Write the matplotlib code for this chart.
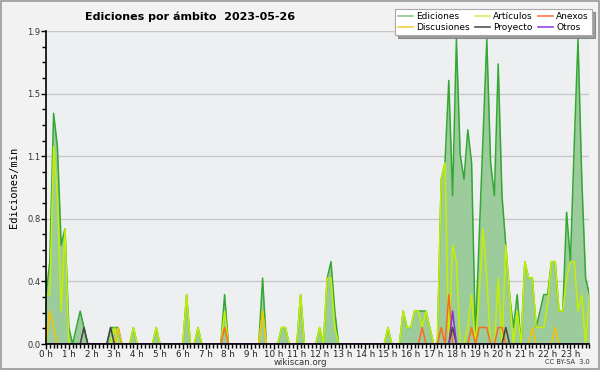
import matplotlib
matplotlib.use("Agg")
import matplotlib.pyplot as plt
import matplotlib.patches as mpatches
import numpy as np

# edits per minute, one value per 10 minutes (2 hours per row)
ediciones = [
    0.3, 0.5, 1.4, 1.2, 0.6, 0.7, 0.1, 0, 0.1, 0.2, 0.1, 0,
    0, 0, 0, 0, 0, 0.1, 0.1, 0.1, 0, 0, 0, 0.1,
    0, 0, 0, 0, 0, 0.1, 0, 0, 0, 0, 0, 0,
    0, 0.3, 0, 0, 0.1, 0, 0, 0, 0, 0, 0, 0.3,
    0, 0, 0, 0, 0, 0, 0, 0, 0, 0.4, 0, 0,
    0, 0, 0.1, 0.1, 0, 0, 0, 0.3, 0, 0, 0, 0,
    0.1, 0, 0.4, 0.5, 0.2, 0, 0, 0, 0, 0, 0, 0,
    0, 0, 0, 0, 0, 0, 0.1, 0, 0, 0, 0.2, 0.1,
    0.1, 0.2, 0.2, 0.2, 0.2, 0.1, 0, 0, 1.0, 1.1, 1.6, 0.9,
    1.85, 1.15, 1.0, 1.3, 1.1, 0.05, 0.65, 1.25, 1.85, 1.1, 0.9, 1.7,
    0.9, 0.6, 0.3, 0.1, 0.3, 0, 0.5, 0.4, 0.4, 0.1, 0.2, 0.3,
    0.3, 0.5, 0.5, 0.2, 0.2, 0.8, 0.5, 1.2, 1.85, 1.0, 0.4, 0.3,
]
articulos = [
    0.3, 0.3, 1.2, 0.9, 0.2, 0.7, 0, 0, 0, 0, 0, 0,
    0, 0, 0, 0, 0, 0, 0.1, 0, 0, 0, 0, 0.1,
    0, 0, 0, 0, 0, 0.1, 0, 0, 0, 0, 0, 0,
    0, 0.3, 0, 0, 0.1, 0, 0, 0, 0, 0, 0, 0.2,
    0, 0, 0, 0, 0, 0, 0, 0, 0, 0.2, 0, 0,
    0, 0, 0.1, 0.1, 0, 0, 0, 0.3, 0, 0, 0, 0,
    0.1, 0, 0.4, 0.4, 0.1, 0, 0, 0, 0, 0, 0, 0,
    0, 0, 0, 0, 0, 0, 0.1, 0, 0, 0, 0.2, 0.1,
    0.1, 0.2, 0.2, 0.1, 0.2, 0.1, 0, 0, 1.0, 1.1, 0, 0.6,
    0.5, 0, 0, 0.1, 0.3, 0, 0.3, 0.7, 0.4, 0, 0, 0.4,
    0, 0.6, 0.3, 0, 0.2, 0, 0.5, 0.4, 0.4, 0.1, 0.1, 0.1,
    0.25, 0.5, 0.5, 0.2, 0.2, 0.4, 0.5, 0.5, 0.2, 0.3, 0, 0.3,
]
# sparse series: time -> edits per minute
discusiones = {"00:10": 0.2, "00:20": 0.1, "03:10": 0.1, "09:30": 0.2,
               "21:20": 0.1, "22:20": 0.1}
anexos = {"07:50": 0.1, "16:30": 0.1, "17:20": 0.1, "17:40": 0.3,
          "18:40": 0.1, "19:00": 0.1, "19:10": 0.1, "19:20": 0.1,
          "19:50": 0.1, "20:00": 0.1}
proyecto = {"01:40": 0.1, "02:50": 0.1, "17:50": 0.1, "20:10": 0.1}
otros = {"17:50": 0.2}

hour_labels = [f"{h} h" for h in range(24)]
date = "2023-05-26"


def expand(d):
    out = np.zeros(144)
    for k, v in d.items():
        h, m = k.split(":")
        out[int(h) * 6 + int(m) // 10] = v
    return out


t = np.arange(144) / 6.0

fig = plt.figure(figsize=(6, 3.7), dpi=100, facecolor="#f2f2f2")
fig.patches.append(mpatches.Rectangle((0.001, 0.002), 0.997, 0.995, transform=fig.transFigure,
                                      fill=False, edgecolor="#999999", linewidth=1.2))
ax = fig.add_axes([46 / 600, 26 / 370, 543.4 / 600, 313 / 370])
ax.set_facecolor("#eeeff1")

ymax = 1.9
ax.set_ylim(0, ymax)
ax.set_xlim(0, t[-1])
yt = np.linspace(0, ymax, 6)
ax.set_yticks(yt)
ax.set_yticklabels([f"{v:.1f}" for v in yt], fontsize=6, color="#333333")
ax.set_yticks(np.arange(0, ymax + 0.001, ymax / 20), minor=True)
ax.set_xticks(np.arange(24))
ax.set_xticklabels(hour_labels, fontsize=6.3, color="#222222")
ax.set_xticks(np.arange(144) / 6.0, minor=True)
ax.tick_params(which="major", direction="out", length=3.5, width=1, pad=0.5)
ax.tick_params(which="minor", direction="out", length=3, width=1)
ax.grid(axis="y", color="#c8c8c8", linewidth=1)
ax.set_axisbelow(True)
for s in ["top", "right"]:
    ax.spines[s].set_visible(False)
ax.spines["left"].set_linewidth(1.2)
ax.spines["bottom"].set_linewidth(1.2)

ed = np.array(ediciones)
ax.fill_between(t, 0, ed, color="#9ccb9c", linewidth=0)
ax.plot(t, ed, color="#33a833", linewidth=1.1)
ax.plot(t, articulos, color="#c4f000", linewidth=1.1)
ax.plot(t, expand(discusiones), color="#f5c400", linewidth=1.1)
ax.plot(t, expand(anexos), color="#ff6a1a", linewidth=1.1)
ax.plot(t, expand(proyecto), color="#444444", linewidth=1.1)
ax.plot(t, expand(otros), color="#8a2be2", linewidth=1.1)

ax.set_ylabel("Ediciones/min", family="DejaVu Sans Mono", fontsize=7.5, labelpad=6)

handles = [
    plt.Line2D([], [], color="#88cc88", lw=1.2, label="Ediciones"),
    plt.Line2D([], [], color="#f5d040", lw=1.2, label="Discusiones"),
    plt.Line2D([], [], color="#d4f060", lw=1.2, label="Artículos"),
    plt.Line2D([], [], color="#555555", lw=1.2, label="Proyecto"),
    plt.Line2D([], [], color="#ff7744", lw=1.2, label="Anexos"),
    plt.Line2D([], [], color="#9944ee", lw=1.2, label="Otros"),
]
leg = fig.legend(handles=handles, ncol=3, loc="upper right", bbox_to_anchor=(0.987, 0.975),
                 fontsize=6.5, frameon=True, shadow=True, fancybox=False,
                 handlelength=1.6, handletextpad=0.4, columnspacing=0.6,
                 labelspacing=0.2, borderpad=0.35, borderaxespad=0)
leg.get_frame().set_edgecolor("#aaaaaa")
leg.get_frame().set_linewidth(0.8)

fig.text(85 / 600, 1 - 17 / 370, f"Ediciones por ámbito  {date}", fontsize=8,
         fontweight="bold", ha="left", va="center")
fig.text(300 / 600, 1 - 362.5 / 370, "wikiscan.org", fontsize=6.2, ha="center", va="center",
         color="#333333")
fig.text(590 / 600, 1 - 362.5 / 370, "CC BY-SA  3.0", fontsize=4.8, ha="right", va="center",
         color="#333333")

fig.savefig("out.png", dpi=100, facecolor=fig.get_facecolor())
